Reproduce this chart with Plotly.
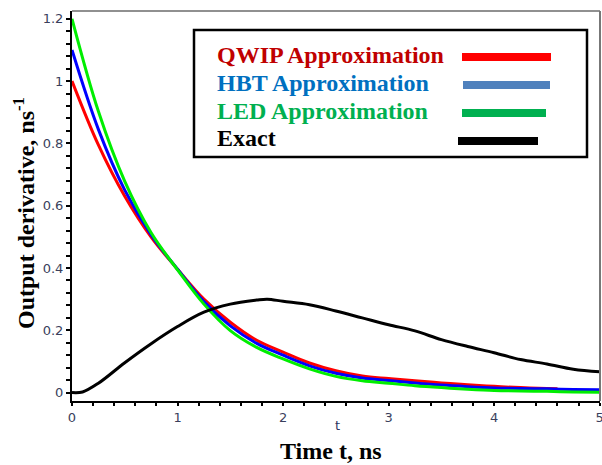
import plotly.graph_objects as go

# ---------------- data ----------------
t_grid = [0, 0.25, 0.5, 0.75, 1.0, 1.25, 1.5, 1.75, 2.0, 2.25, 2.5, 2.75,
          3.0, 3.25, 3.5, 3.75, 4.0, 4.25, 4.5, 4.75, 5.0]
qwip_t = [0, 0.25, 0.5, 0.75, 1.0, 1.25, 1.5, 1.75, 2.0, 2.25, 2.5, 2.75,
          3.0, 3.25, 3.5, 3.75, 4.0, 4.25, 4.5, 4.6]
qwip = [1.00, 0.795, 0.630, 0.499, 0.396, 0.300, 0.226, 0.168, 0.130, 0.095,
        0.070, 0.053, 0.045, 0.038, 0.031, 0.025, 0.020, 0.016, 0.013, 0.012]
hbt = [1.10, 0.845, 0.650, 0.506, 0.396, 0.292, 0.214, 0.158, 0.120, 0.086,
       0.062, 0.047, 0.039, 0.031, 0.024, 0.019, 0.015, 0.013, 0.012, 0.010, 0.009]
led = [1.20, 0.903, 0.678, 0.513, 0.394, 0.284, 0.199, 0.145, 0.108, 0.076,
       0.052, 0.038, 0.030, 0.022, 0.016, 0.011, 0.007, 0.005, 0.004, 0.002, 0.001]
exact_t = [0, 0.1, 0.25, 0.5, 0.75, 1.0, 1.25, 1.5, 1.75, 1.85, 2.0, 2.25, 2.5,
           2.75, 3.0, 3.25, 3.5, 3.75, 4.0, 4.25, 4.5, 4.75, 5.0]
exact = [0.0, 0.002, 0.03, 0.096, 0.157, 0.212, 0.258, 0.284, 0.297, 0.300,
         0.293, 0.282, 0.262, 0.240, 0.218, 0.198, 0.170, 0.148, 0.128, 0.106,
         0.092, 0.075, 0.067]

series_names = ["QWIP Approximation", "HBT Approximation", "LED Approximation", "Exact"]
line_colors = ["#FF0000", "#0000FF", "#00EE00", "#000000"]
legend_text_colors = ["#C00000", "#0070C0", "#00B050", "#000000"]
legend_sample_colors = ["#FF0000", "#4F81BD", "#00B050", "#000000"]

x_ticks = [0, 1, 2, 3, 4, 5]
x_tick_labels = ["0", "1", "2", "3", "4", "5"]
y_ticks = [0, 0.2, 0.4, 0.6, 0.8, 1.0, 1.2]
y_tick_labels = ["0", "0.2", "0.4", "0.6", "0.8", "1", "1.2"]

# ---------------- figure ----------------
W, H = 602, 465
L, R, T, B = 72, 2, 11, 64
PW, PH = W - L - R, H - T - B


def px2x(px):
    return (px - L) / PW


def py2y(py):
    return (H - B - py) / PH


fig = go.Figure()
for xs, ys, name, col in [(qwip_t, qwip, series_names[0], line_colors[0]),
                          (t_grid, hbt, series_names[1], line_colors[1]),
                          (t_grid, led, series_names[2], line_colors[2]),
                          (exact_t, exact, series_names[3], line_colors[3])]:
    fig.add_trace(go.Scatter(x=xs, y=ys, mode="lines", name=name,
                             line=dict(color=col, width=3, shape="spline", smoothing=1.0),
                             showlegend=False))

tickfont = dict(family="DejaVu Sans", size=13, color="#3a3f5c")
xr = [0, 5.003]
yr = [-0.027, 1.225]

fig.update_layout(
    width=W, height=H,
    margin=dict(l=L, r=R, t=T, b=B, autoexpand=False),
    paper_bgcolor="white", plot_bgcolor="white",
    xaxis=dict(range=xr, showgrid=False, zeroline=False, showline=True,
               linecolor="black", linewidth=2, ticks="outside", ticklen=3,
               tickwidth=1.5, tickcolor="black", ticklabeloverflow="allow",
               automargin=False,
               tickvals=x_ticks, ticktext=x_tick_labels, tickfont=tickfont,
               minor=dict(dtick=0.2, ticks="outside", ticklen=3, tickwidth=1.5,
                          tickcolor="black", showgrid=False)),
    yaxis=dict(range=yr, showgrid=False, zeroline=False, showline=True,
               linecolor="black", linewidth=2, ticks="outside", ticklen=4,
               tickwidth=1.5, tickcolor="black", ticklabeloverflow="allow",
               automargin=False,
               tickvals=y_ticks, ticktext=y_tick_labels, tickfont=tickfont,
               minor=dict(dtick=0.04, tick0=0, ticks="outside", ticklen=4, tickwidth=1.5,
                          tickcolor="black", showgrid=False)),
    xaxis2=dict(range=xr, overlaying="x", anchor="y", showgrid=False, zeroline=False,
                showline=False, ticks="inside", ticklen=4, tickwidth=1.5,
                tickcolor="black", tickvals=x_ticks, showticklabels=False,
                automargin=False,
                minor=dict(dtick=0.2, ticks="inside", ticklen=2, tickwidth=1.5,
                           tickcolor="black", showgrid=False)),
    yaxis2=dict(range=yr, overlaying="y", anchor="x", showgrid=False, zeroline=False,
                showline=False, ticks="inside", ticklen=3, tickwidth=1.5,
                tickcolor="black", tickvals=y_ticks, showticklabels=False,
                automargin=False,
                minor=dict(dtick=0.04, tick0=0, ticks="inside", ticklen=3, tickwidth=1.5,
                           tickcolor="black", showgrid=False)),
    showlegend=False,
)

shapes = [
    dict(type="line", xref="paper", yref="paper", x0=0, x1=1, y0=1, y1=1,
         line=dict(color="#222222", width=1.2)),
    dict(type="line", xref="paper", yref="paper", x0=1, x1=1, y0=0, y1=1,
         line=dict(color="#777777", width=2)),
    # legend box
    dict(type="rect", xref="paper", yref="paper",
         x0=px2x(194), x1=px2x(587), y0=py2y(157), y1=py2y(30),
         line=dict(color="black", width=2.5), fillcolor="white"),
]
row_text_y = [55, 82.5, 110.5, 138]
sample_y = [57, 85, 113, 141]
sample_x = [(462, 551), (463, 550), (462, 546), (458, 538)]
annotations = []
for i in range(4):
    annotations.append(dict(
        x=px2x(215), y=py2y(row_text_y[i]), xref="paper", yref="paper",
        xanchor="left", yanchor="middle", showarrow=False,
        text="<b>%s</b>" % series_names[i],
        font=dict(family="Liberation Serif", size=24, color=legend_text_colors[i])))
    shapes.append(dict(type="line", xref="paper", yref="paper",
                       x0=px2x(sample_x[i][0]), x1=px2x(sample_x[i][1]),
                       y0=py2y(sample_y[i]), y1=py2y(sample_y[i]),
                       line=dict(color=legend_sample_colors[i], width=8)))

annotations += [
    dict(x=px2x(337), y=py2y(425), xref="paper", yref="paper", showarrow=False,
         xanchor="center", yanchor="middle", text="t",
         font=dict(family="DejaVu Sans", size=13, color="#2a3460")),
    dict(x=px2x(331), y=py2y(451), xref="paper", yref="paper", showarrow=False,
         xanchor="center", yanchor="middle", text="<b>Time t, ns</b>",
         font=dict(family="Liberation Serif", size=24, color="black")),
    dict(x=px2x(24), y=py2y(213), xref="paper", yref="paper", showarrow=False,
         xanchor="center", yanchor="middle", textangle=-90,
         text="<b>Output derivative, ns<sup>-1</sup></b>",
         font=dict(family="Liberation Serif", size=24, color="black")),
]
fig.update_layout(shapes=shapes, annotations=annotations)

fig.write_html("out.html", config={"displayModeBar": False},
               post_script="document.body.style.margin='0px';document.body.style.padding='0px';")
